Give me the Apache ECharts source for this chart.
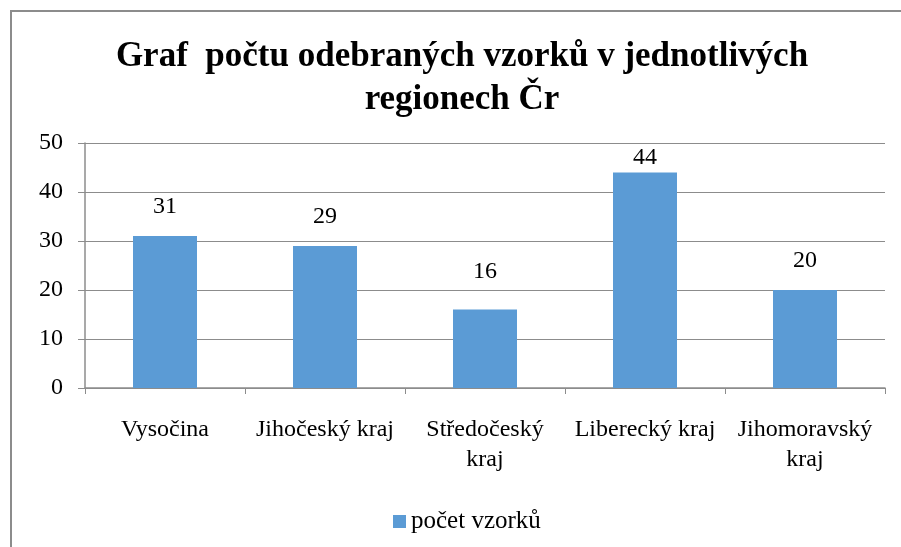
<!DOCTYPE html>
<html>
<head>
<meta charset="utf-8">
<script src="https://cdn.jsdelivr.net/npm/echarts@6/dist/echarts.min.js"></script>
<style>
  html, body { margin: 0; padding: 0; background: #fff; }
  #main { width: 901px; height: 547px; }
</style>
</head>
<body>
<div id="main"></div>
<script>
// data
const categories = ['Vysočina', 'Jihočeský kraj', 'Středočeský kraj', 'Liberecký kraj', 'Jihomoravský kraj'];
const values = [31, 29, 16, 44, 20];
const seriesName = 'počet vzorků';
const titleText = 'Graf  počtu odebraných vzorků v jednotlivých\nregionech Čr';

const serif = '"Liberation Serif", "DejaVu Serif", serif';
const gray = '#8c8c8c';

// label offsets as placed in the original (the tall bar's label is pushed down to fit)
const labelGap = { 2: 26, 3: 3 };

const chart = echarts.init(document.getElementById('main'));
chart.setOption({
    animation: false,
    backgroundColor: '#fff',
    graphic: [{
        type: 'rect',
        shape: { x: 11, y: 11, width: 1000, height: 1000 },
        style: { fill: 'none', stroke: gray, lineWidth: 2 },
        silent: true
    }],
    title: {
        text: titleText,
        left: 457,
        textAlign: 'center',
        top: 30,
        textStyle: {
            fontFamily: serif,
            fontWeight: 'bold',
            fontSize: 35,
            lineHeight: 43,
            color: '#000'
        }
    },
    legend: {
        data: [seriesName],
        left: 388,
        top: 504,
        icon: 'rect',
        itemWidth: 13,
        itemHeight: 13,
        itemGap: 4,
        textStyle: { fontFamily: serif, fontSize: 25, color: '#000' }
    },
    grid: { left: 85, right: 16, top: 143, bottom: 159 },
    xAxis: {
        type: 'category',
        data: categories,
        axisLine: { lineStyle: { color: gray, width: 1.5 } },
        axisTick: { show: true, length: 6, lineStyle: { color: gray } },
        axisLabel: {
            fontFamily: serif,
            fontSize: 24,
            color: '#000',
            margin: 27,
            lineHeight: 30,
            interval: 0,
            // long names wrap at the last space
            formatter: (v) => v.length > 15 ? v.replace(/ (?=[^ ]*$)/, '\n') : v
        }
    },
    yAxis: {
        type: 'value',
        min: 0,
        max: 50,
        interval: 10,
        axisLine: { show: true, lineStyle: { color: gray, width: 1.5 } },
        axisTick: { show: true, length: 7, lineStyle: { color: gray } },
        splitLine: { lineStyle: { color: gray, width: 1 } },
        axisLabel: { fontFamily: serif, fontSize: 24, color: '#000', margin: 22 }
    },
    series: [{
        name: seriesName,
        type: 'bar',
        data: values.map((v, i) => labelGap[i] !== undefined
            ? { value: v, label: { distance: labelGap[i] } }
            : v),
        barCategoryGap: '60%',
        itemStyle: { color: '#5b9bd5' },
        label: {
            show: true,
            position: 'top',
            distance: 17,
            fontFamily: serif,
            fontSize: 24,
            color: '#000'
        }
    }]
});
</script>
</body>
</html>
